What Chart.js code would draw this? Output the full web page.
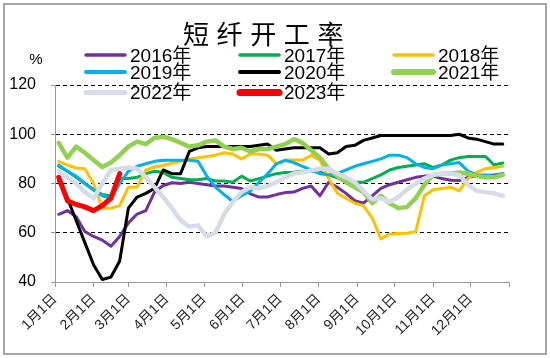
<!DOCTYPE html>
<html><head><meta charset="utf-8">
<script src="https://cdn.jsdelivr.net/npm/chart.js@4/dist/chart.umd.min.js"></script>
<style>html,body{margin:0;padding:0;background:#fff;}canvas{display:block;}</style>
</head><body>
<canvas id="c" width="550" height="358"></canvas>
<script>
// ---- data ----
const titleText = '短纤开工率';
const unitText = '%';
const weekDays = [3,10,17,24,31,38,45,52,59,66,73,80,87,94,101,108,115,122,129,136,143,150,157,164,171,178,185,192,199,206,213,220,227,234,241,248,255,262,269,276,283,290,297,304,311,318,325,332,339,346,353,360];
const monthStarts = [0,31,59,90,120,151,181,212,243,273,304,334,365];
const monthLabels = ['1月1日','2月1日','3月1日','4月1日','5月1日','6月1日','7月1日','8月1日','9月1日','10月1日','11月1日','12月1日'];
const yTicks = [40,60,80,100,120];
const seriesNames = ['2016年','2017年','2018年','2019年','2020年','2021年','2022年','2023年'];
const s2016 = [67.5,69,66.5,60.5,58.5,57,54.5,58.5,64,67.6,69,76.5,79.2,80.3,80,80.5,80,79.5,79,79,78.5,78,75.8,74.5,74.5,75.5,76.3,76.5,78,79,75,80.5,78.5,76,73,72,75,78,79.5,80.5,81.5,82.5,83,83,82,81.3,81.2,82.5,83,83.3,83.5,84];
const s2017 = [87,85,82.5,80,77.5,75.5,75,82,82,82.5,84,85,84.5,82.5,82,81.5,81.5,82,81,81,80.5,83,81,82,83,84,84.5,84.6,85,85,84.6,83.5,82.3,81,80.5,80.5,82,83.5,85.5,86.5,87,87.5,88,86.5,87.5,89.5,90.5,91,91,91,87.5,88.3];
const s2018 = [89,87.5,86.3,86,80,70,70,71,78.5,78.5,85.5,86.7,87.3,88.2,89,90,90.5,91,91.5,92.5,92,90,92,92,91.5,88,89.5,89.5,89.5,91.5,89.5,82,76,74,72,71,66,57.5,59.5,59.7,59.8,60.5,75,77.5,78,78.5,77,82,84.5,86,86.5,87];
const s2019 = [87.5,85,83,80,77.5,75,74,80,85,87,88,89,89.4,89.4,89.4,89.4,89,83,78.5,75.5,72.7,75,77,80.5,84,88,89.4,88.5,87,85.5,84,83.5,84,85.5,87,88,89,90,91.5,91.5,90.5,88,86.5,86,87.5,88,88.5,85,83.5,83.5,83,84];
const s2020 = [81,74,65,56,47,41,42,48.5,70,74.5,76,78,85.5,84,84,93,94.5,95,95,95,95,95,95,95.5,96,93.5,94,94.5,94.5,94.5,94.5,92,92.5,95,95.5,97.5,98.5,99.5,99.5,99.5,99.5,99.5,99.5,99.5,99.5,99.5,100,98.5,98,97,96,96];
const s2021 = [96.5,90.5,95,92.5,89.5,86.7,88.5,91.5,95,97,96,98.5,99,98,96.5,95,95.5,97,97.5,95,94,94.5,93,94,94,95,96,98,96.5,93.5,90.5,86,83,80.5,78.5,76.5,72,75,72,70,70.5,74,79.5,83.5,84,84,84.5,84,83,82.5,82.5,83.5];
const s2022 = [85,82.5,80,76.5,74,80,85.5,86,86.5,86,82.5,78.5,74.5,70,65,62.5,63,58.5,60,67.5,72.5,76.5,78.5,78,79,80.5,82.5,84,84.6,85.3,86,86,84,82.5,80.5,77,73.5,74,72.5,74.5,77.5,80,82,83.5,84,84,83.5,79.5,77,76.5,76,75];
const s2023 = [82.5,73,71.5,70.5,69,71,74,84];

// ---- styles ----
const seriesValues = [s2016,s2017,s2018,s2019,s2020,s2021,s2022,s2023];
const seriesColors = ['#7030A0','#00B050','#FFC000','#00B0F0','#000000','#92D050','#D5DCE8','#FF0000'];
const lineWidths = [3,3,3,3,3,4.5,4.5,5];
const legendWidths = [3.5,3.5,3.5,4,4,6,5,7];

const datasets = seriesValues.map((vals, i) => ({
  label: seriesNames[i],
  data: vals.map((v, k) => ({x: weekDays[k], y: v})),
  borderColor: seriesColors[i],
  backgroundColor: seriesColors[i],
  borderWidth: lineWidths[i],
  legendWidth: legendWidths[i],
  pointRadius: 0,
  tension: 0,
  fill: false,
  borderJoinStyle: 'round',
  borderCapStyle: 'round',
  order: seriesValues.length - 1 - i
}));

const decor = {
  id: 'decor',
  beforeDraw(chart) {
    const ctx = chart.ctx;
    ctx.save(); ctx.fillStyle = '#fff'; ctx.fillRect(0, 0, chart.width, chart.height); ctx.restore();
  },
  afterDraw(chart) {
    const ctx = chart.ctx;
    ctx.save();
    ctx.strokeStyle = '#a6a6a6'; ctx.lineWidth = 2;
    ctx.strokeRect(4, 4, 542, 350);
    // title
    ctx.fillStyle = '#000';
    ctx.font = '26px "Noto Sans CJK SC"';
    ctx.textAlign = 'center'; ctx.textBaseline = 'middle';
    [...titleText].forEach((ch, k) => ctx.fillText(ch, 196 + 33.6 * k, 34));
    // unit
    ctx.font = '15px "Liberation Sans", Arial';
    ctx.fillText(unitText, 36, 60);
    // legend
    const cols = [84, 238, 392];
    const rows = [55, 72, 92.5];
    ctx.textAlign = 'left';
    ctx.font = '19px "Liberation Sans", "Noto Sans CJK SC"';
    chart.data.datasets.forEach((ds, i) => {
      const x0 = cols[i % 3], y = rows[Math.floor(i / 3)];
      ctx.strokeStyle = ds.borderColor; ctx.lineWidth = ds.legendWidth; ctx.lineCap = 'round';
      ctx.beginPath(); ctx.moveTo(x0 + 2, y); ctx.lineTo(x0 + 41, y); ctx.stroke();
      ctx.fillStyle = '#000';
      ctx.fillText(ds.label, x0 + 46, y + 1.5);
    });
    ctx.restore();
  }
};

new Chart(document.getElementById('c'), {
  type: 'line',
  data: { datasets },
  options: {
    responsive: false,
    animation: false,
    devicePixelRatio: 1,
    layout: { padding: { left: 0, right: 41, top: 85, bottom: 0 } },
    plugins: { legend: { display: false }, title: { display: false }, tooltip: { enabled: false } },
    scales: {
      x: {
        type: 'linear', min: 0, max: 365,
        afterBuildTicks: s => { s.ticks = monthStarts.map(v => ({ value: v })); },
        afterFit: s => { s.height = 76; },
        ticks: {
          autoSkip: false, minRotation: 45, maxRotation: 45, padding: 4,
          color: '#222', font: { size: 14, family: '"Liberation Sans", "Noto Sans CJK SC"' },
          callback: (v, i) => monthLabels[i] ?? ''
        },
        grid: { drawOnChartArea: false, drawTicks: true, tickLength: 5, tickColor: '#999', color: '#999' },
        border: { display: true, color: '#999', width: 1 }
      },
      y: {
        min: 40, max: 120,
        afterBuildTicks: s => { s.ticks = yTicks.map(v => ({ value: v })); },
        afterFit: s => { s.width = 55; },
        ticks: { color: '#000', padding: 15, font: { size: 16, family: '"Liberation Sans", Arial' } },
        grid: {
          color: c => (c.tick && c.tick.value === 40) ? 'rgba(0,0,0,0)' : '#000',
          lineWidth: 1, drawTicks: true, tickLength: 4, tickColor: '#999'
        },
        border: { display: true, color: '#999', width: 1, dash: [4, 3] }
      }
    }
  },
  plugins: [decor]
});
</script>
</body></html>
